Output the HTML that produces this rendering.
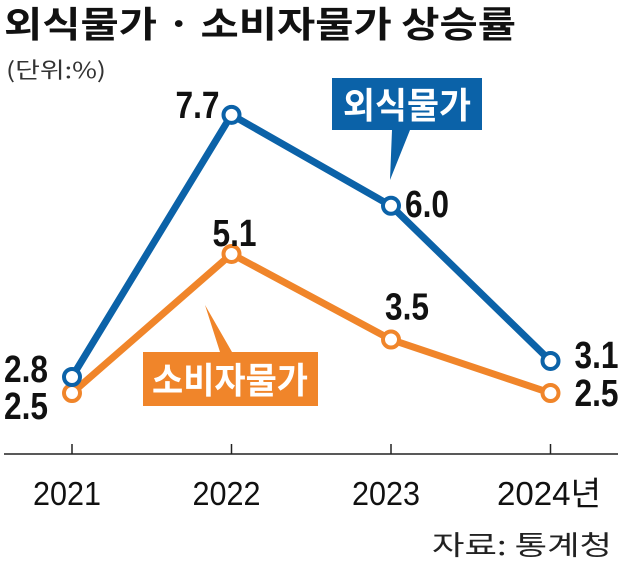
<!DOCTYPE html>
<html><head><meta charset="utf-8"><style>
body{margin:0;background:#fff;}
svg{display:block;font-family:"Liberation Sans","Noto Sans CJK KR",sans-serif;}
</style></head><body>
<svg id="c" width="618" height="562" viewBox="0 0 618 562">
<text x="4" y="37" font-size="36" font-weight="bold" fill="#111" textLength="512" lengthAdjust="spacingAndGlyphs" font-family="'Noto Sans CJK KR',sans-serif">외식물가 · 소비자물가 상승률</text>
<text x="6" y="78" font-size="22" fill="#333" textLength="100" lengthAdjust="spacingAndGlyphs" font-family="'Noto Sans CJK KR',sans-serif">(단위:%)</text>
<line x1="4" y1="454" x2="618" y2="454" stroke="#222" stroke-width="1.5"/>
<g id="ticks"></g>
<g id="lines"></g>
<path d="M332 78 H482 V130 H410 L390 180 L392 130 H332 Z" fill="#0b62a8"/>
<text x="343" y="118" font-size="36" font-weight="bold" fill="#fff" textLength="128" lengthAdjust="spacingAndGlyphs" font-family="'Noto Sans CJK KR',sans-serif">외식물가</text>
<path d="M143 352 H220 L205 305 L232 352 H318 V406 H143 Z" fill="#f0852a"/>
<text x="152" y="393" font-size="36" font-weight="bold" fill="#fff" textLength="156" lengthAdjust="spacingAndGlyphs" font-family="'Noto Sans CJK KR',sans-serif">소비자물가</text>
<text x="432" y="555" font-size="27" fill="#222" textLength="180" lengthAdjust="spacingAndGlyphs" font-family="'Noto Sans CJK KR',sans-serif">자료: 통계청</text>
</svg>
<script>
const years=["2021","2022","2023","2024년"];
const dining=[2.8,7.7,6.0,3.1];
const consumer=[2.5,5.1,3.5,2.5];
const xs=i=>72+i*159.5;
const ys=v=>377-(v-2.8)*53.5;
const NS="http://www.w3.org/2000/svg";
const tk=document.getElementById('ticks'), lg=document.getElementById('lines');
function mk(p,tag,a){const e=document.createElementNS(NS,tag);for(const k in a)e.setAttribute(k,a[k]);p.appendChild(e);return e;}
years.forEach((y,i)=>{
 const t=mk(tk,'line',{x1:xs(i),x2:xs(i),y1:444,y2:454,stroke:'#222','stroke-width':1.5});
 
 
 const l=mk(tk,'text',{x:(i==3?497:xs(i)-39),y:505,'font-size':33,fill:'#111',textLength:(i==3?104:68),lengthAdjust:'spacingAndGlyphs'});
 l.textContent=y;
 
 
});
function series(vals,color,name,offs){
 const pl=mk(lg,'polyline',{points:vals.map((v,i)=>xs(i)+','+ys(v)).join(' '),fill:'none',stroke:color,'stroke-width':7,'stroke-linejoin':'round'});
 
 
 vals.forEach((v,i)=>{
  const c=mk(lg,'circle',{cx:xs(i),cy:ys(v),r:8,fill:'#fff',stroke:color,'stroke-width':4});
  
  
  const t=mk(lg,'text',{x:xs(i)+offs[i][0],y:ys(v)+offs[i][1],'font-size':38,'font-weight':'bold',fill:'#111',textLength:44,lengthAdjust:'spacingAndGlyphs'});
  t.textContent=v.toFixed(1);
  
  
 });
}
series(consumer,'#f0852a','consumer',[[-68,26],[-19,-8],[-6,-20],[24,13]]);
series(dining,'#0b62a8','dining',[[-68,5],[-56,3],[14,11],[24,7]]);
</script>
</body></html>
